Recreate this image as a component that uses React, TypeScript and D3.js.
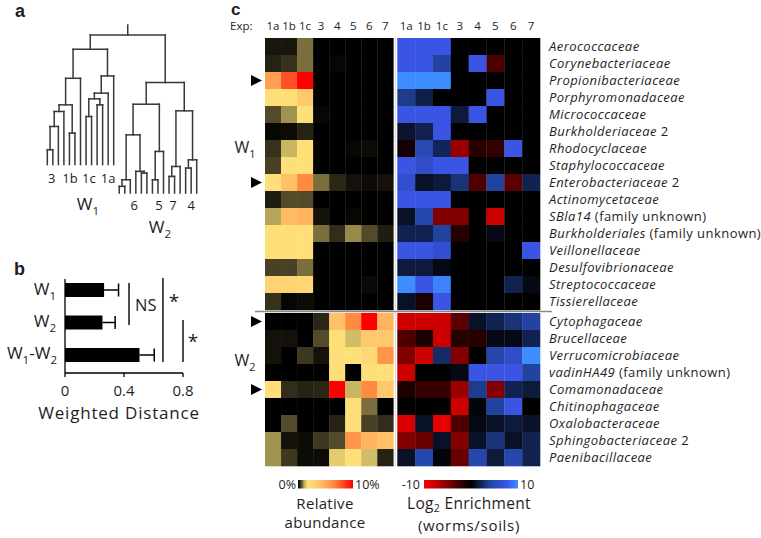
import React from "react";
import * as d3 from "d3";

// ---------- Data ----------
const expColumns = ["1a", "1b", "1c", "3", "4", "5", "6", "7"];

const families = [
  "Aerococcaceae", "Corynebacteriaceae", "Propionibacteriaceae", "Porphyromonadaceae",
  "Micrococcaceae", "Burkholderiaceae", "Rhodocyclaceae", "Staphylococcaceae",
  "Enterobacteriaceae", "Actinomycetaceae", "SBla14", "Burkholderiales",
  "Veillonellaceae", "Desulfovibrionaceae", "Streptococcaceae", "Tissierellaceae",
  "Cytophagaceae", "Brucellaceae", "Verrucomicrobiaceae", "vadinHA49",
  "Comamonadaceae", "Chitinophagaceae", "Oxalobacteraceae", "Sphingobacteriaceae",
  "Paenibacillaceae",
];
const familySuffix = [
  "", "", "", "", "", " 2", "", "", " 2", "", " (family unknown)", " (family unknown)",
  "", "", "", "", "", "", "", " (family unknown)", "", "", "", " 2", "",
];
const w1Count = 16;
const markedRows = [2, 8, 16, 20];

// relative abundance (%), columns follow expColumns
const abundance = [
  [0.2, 0.2, 0.8, 0, 0, 0, 0, 0],
  [0.3, 0.45, 0.8, 0, 0.05, 0, 0, 0],
  [5.5, 8, 10, 0, 0, 0, 0, 0],
  [2, 2, 3.5, 0, 0, 0, 0, 0],
  [0.6, 1.0, 2, 0.05, 0, 0, 0, 0],
  [0.05, 0.1, 0.3, 0, 0, 0, 0, 0],
  [0.45, 1.2, 2, 0, 0, 0.05, 0.1, 0],
  [0.55, 2, 2, 0, 0, 0, 0, 0],
  [2, 4, 6.5, 0.8, 0.35, 0.15, 0.1, 0.15],
  [0.25, 0.6, 0.6, 0, 0, 0, 0, 0],
  [1.1, 4.2, 4.5, 0.15, 0, 0.05, 0, 0],
  [2, 2, 2, 0.8, 0.4, 0.95, 0.6, 0.25],
  [2, 2, 2, 0, 0, 0, 0, 0],
  [0.55, 0.55, 0.8, 0, 0, 0, 0, 0],
  [2.8, 2.8, 2.6, 0, 0, 0, 0.08, 0],
  [0.45, 0.05, 0.1, 0, 0, 0, 0, 0],
  [0, 0, 0, 0.35, 4, 6.5, 10, 4.5],
  [0.15, 0.15, 0, 0.6, 2, 1.3, 3.5, 3.5],
  [0.15, 0, 0.5, 0.15, 2, 2, 2.5, 6],
  [0, 0, 0, 0, 2, 0, 2, 2],
  [2, 0.4, 0.3, 0.35, 10, 1.2, 6.5, 3.5],
  [0, 0, 0, 0, 0, 2, 0.8, 0],
  [0, 0.6, 0, 0, 0.3, 2, 0.55, 0.4],
  [1.0, 0.15, 0.1, 0.5, 0.6, 6, 4.5, 4],
  [1.0, 0.5, 0.1, 0.1, 1.5, 2, 1.3, 0.3],
];

// log2 enrichment (worms/soils)
const enrichment = [
  [7.5, 7.5, 7.5, 0, 0, 0, 0, 0],
  [7.5, 7.5, 4, 0, 7.5, -3, 0, 0],
  [10, 10, 10, 0, 0, 0, 0, 0],
  [3.5, 1.8, 0, 0, 0, 7.5, 0, 0],
  [7.5, 7.5, 7.5, 1.5, 7.5, 0, 0, 0],
  [1.2, 2, 7.5, 0, 0, 0, 0, 0],
  [-0.8, 5, 2.2, -6, -1.5, -2, 7.5, 0],
  [7.5, 6, 7.5, 7.5, 0, 0, 0, 0],
  [6.5, 1, 1.5, 3, -3, 4, -3.5, 2],
  [7.5, 7.5, 7.5, 0, 0, 0, 0, 0],
  [1, 4.5, -5, -5, 0, -8, 0, 0],
  [2, 2, 4, -1.5, 0, 0.5, 0, 0],
  [7.5, 7.5, 6.5, 0, 0, 0, 0, 7.5],
  [1.5, 1.5, 0.5, 0, 0, 0, 0, 0],
  [10, 7.5, 9.5, 0, 0, 0, 2, 0.5],
  [1, -1, 7.5, 0, 0, 0, 0, 0],
  [-8, -8, -8, -3.5, 1, 2, 3, 4],
  [-3, -1, -8, -1.5, -1.5, 0.5, 0.5, 2],
  [-5, -8, 2.5, -5, 0, 4.5, 6, 10],
  [-8, 0, 0, 0.5, 7.5, 7.5, 7.5, 4],
  [-1, -2, -2, -6, 3.5, -5, 2, 1.5],
  [0, 0, 0, -8, 0.3, 4, 7.5, 0],
  [-8.5, 1, -9, -3, 0.5, 1, 1.5, 1],
  [-5, -4, 1, -5, 1, 3, 1, 2],
  [1, 4.5, 0.3, -4, 4.5, 1.5, 4.5, 2],
];

const abundanceStops = [0, 0.5, 0.8, 1.2, 1.8, 4, 6.5, 10];
const abundanceColors = ["#000000", "#3e3820", "#7a6e3c", "#c8b662", "#ffe27a", "#ffc068", "#ff8a40", "#ff0000"];
const enrichStops = [-10, -5, 0, 4, 7.5, 10];
const enrichColors = ["#ff0000", "#820000", "#000000", "#2244a0", "#3a54e4", "#3d8dff"];

// panel b
const distCategories = ["W1", "W2", "W1-W2"];
const distMeans = [0.265, 0.254, 0.505];
const distErrors = [0.098, 0.086, 0.1];
const distTicks = [0, 0.4, 0.8];

// panel a dendrogram (merge heights)
type Node = { h: number; c?: Node[] };
const N = (h: number, ...c: Node[]): Node => ({ h, c });
const L1 = (): Node => ({ h: 0.18 });
const L2 = (): Node => ({ h: 0 });
const dendroRoot: Node = N(
  1.0,
  N(0.91,
    N(0.726,
      N(0.558,
        N(0.516, N(0.421, N(0.274, L1(), L1()), L1()), L1()),
        N(0.379, L1(), L1())),
      L1()),
    N(0.741,
      N(0.632, N(0.596, N(0.484, L1(), L1()), N(0.558, L1(), L1())), L1()),
      L1())),
  N(0.70,
    N(0.562,
      N(0.368,
        N(0.084, N(0.042, L2(), L2()), L2()),
        N(0.137, L2(), N(0.126, L2(), L2()))),
      N(0.263, N(0.084, L2(), L2()), L2())),
    N(0.52,
      N(0.168, N(0.105, L2(), L2()), L2()),
      N(0.21, N(0.158, L2(), L2()), L2())))
);
const rootStemTop = 1.063;
const w1LeafLabels = ["3", "1b", "1c", "1a"];
const w1LeafLabelPos = [0.8, 4.1, 7.5, 11];
const w2LeafLabels = ["6", "5", "7", "4"];
const w2LeafLabelPos = [15.7, 20.2, 22.7, 26];

// ---------- Helpers ----------
const FONT = "'Open Sans', sans-serif";
const BOLD = "'Liberation Sans', Arial, sans-serif";
const TXT = "#1e1e1e";

// parts: [text, isSubscript]
function SubText({ x, y, parts, anchor = "start", size = 15, ls = 0, shift = 0.3 }: any) {
  let lvl = 0;
  const off = size * shift;
  return (
    <text x={x} y={y} textAnchor={anchor} fontFamily={FONT} fontSize={size} fill={TXT} letterSpacing={ls}>
      {parts.map(([t, sub]: [string, boolean], i: number) => {
        const target = sub ? off : 0;
        const dy = target - lvl;
        lvl = target;
        return (
          <tspan key={i} dy={dy} fontSize={sub ? size * 0.68 : size}>{t}</tspan>
        );
      })}
    </text>
  );
}

export default function App() {
  // ---- dendrogram layout ----
  const leafX = d3.scaleLinear().domain([0, 27]).range([47.3, 196.7]);
  const hY = d3.scaleLinear().domain([0, 1]).range([193, 35]);
  const segs: [number, number, number, number][] = [];
  let leafIdx = 0;
  const layout = (n: Node): number => {
    if (!n.c) return leafX(leafIdx++);
    const xs = n.c.map(layout);
    const y = hY(n.h);
    segs.push([xs[0], y, xs[xs.length - 1], y]);
    n.c.forEach((ch, i) => segs.push([xs[i], y, xs[i], hY(ch.h)]));
    return (xs[0] + xs[xs.length - 1]) / 2;
  };
  const rootX = layout(dendroRoot);
  segs.push([rootX, hY(dendroRoot.h), rootX, hY(rootStemTop)]);

  // ---- bar chart ----
  const bx = d3.scaleLinear().domain([0, 0.8]).range([65, 183]);
  const by = d3.scaleBand().domain(distCategories).range([273.75, 371.25]).paddingInner(0.57).paddingOuter(0.285);
  const bw = by.bandwidth();
  const axisY = 373;

  // ---- heatmaps ----
  const colL = d3.scaleBand().domain(expColumns).range([265, 393.3]);
  const colR = d3.scaleBand().domain(expColumns).range([397.3, 540]);
  const rowBand = d3.scaleBand<number>().domain(d3.range(families.length)).range([38, 38 + families.length * 17]);
  const rowY = (i: number) => (rowBand(i) as number) + (i >= w1Count ? 3 : 0);
  const rh = rowBand.bandwidth();
  const cAb = d3.scaleLinear<string>().domain(abundanceStops).range(abundanceColors).clamp(true);
  const cEn = d3.scaleLinear<string>().domain(enrichStops).range(enrichColors).clamp(true);
  const gradAb = d3.range(0, 41).map((i) => ({ o: i / 40, c: cAb((i / 40) * 10) }));
  const gradEn = d3.range(0, 41).map((i) => ({ o: i / 40, c: cEn(-10 + (i / 40) * 20) }));

  return (
    <svg width={761} height={538} style={{ position: "absolute", left: 0, top: 0, background: "#fff" }}>
      <defs>
        <linearGradient id="gAb" x1="0" x2="1" y1="0" y2="0">
          {gradAb.map((s, i) => <stop key={i} offset={s.o} stopColor={s.c} />)}
        </linearGradient>
        <linearGradient id="gEn" x1="0" x2="1" y1="0" y2="0">
          {gradEn.map((s, i) => <stop key={i} offset={s.o} stopColor={s.c} />)}
        </linearGradient>
      </defs>

      {/* panel letters */}
      <text x={15} y={17} fontFamily={BOLD} fontWeight="bold" fontSize={18} fill={TXT}>a</text>
      <text x={14} y={275} fontFamily={BOLD} fontWeight="bold" fontSize={18} fill={TXT}>b</text>
      <text x={231} y={14.5} fontFamily={BOLD} fontWeight="bold" fontSize={17} fill={TXT}>c</text>

      {/* ---- panel a ---- */}
      <g stroke="#383838" strokeWidth={1.5} fill="none" strokeLinecap="square">
        {segs.map((s, i) => <line key={i} x1={s[0]} y1={s[1]} x2={s[2]} y2={s[3]} />)}
      </g>
      {w1LeafLabels.map((t, i) => (
        <text key={t} x={leafX(w1LeafLabelPos[i])} y={183} textAnchor="middle" fontFamily={FONT} fontSize={13} fill={TXT}>{t}</text>
      ))}
      {w2LeafLabels.map((t, i) => (
        <text key={t} x={leafX(w2LeafLabelPos[i])} y={210} textAnchor="middle" fontFamily={FONT} fontSize={13} fill={TXT}>{t}</text>
      ))}
      <SubText x={88} y={210} parts={[["W", false], ["1", true]]} anchor="middle" size={17} />
      <SubText x={160} y={233} parts={[["W", false], ["2", true]]} anchor="middle" size={17} />

      {/* ---- panel b ---- */}
      {distCategories.map((c, i) => {
        const y0 = by(c) as number;
        const yc = y0 + bw / 2;
        const xe = bx(distMeans[i] + distErrors[i]);
        return (
          <g key={c}>
            <rect x={bx(0)} y={y0} width={bx(distMeans[i]) - bx(0)} height={bw} fill="#000" />
            <line x1={bx(distMeans[i])} x2={xe} y1={yc} y2={yc} stroke="#000" strokeWidth={1.5} />
            <line x1={xe} x2={xe} y1={yc - 6.5} y2={yc + 6.5} stroke="#000" strokeWidth={1.5} />
          </g>
        );
      })}
      <SubText x={56} y={295} parts={[["W", false], ["1", true]]} anchor="end" size={17} />
      <SubText x={56} y={327} parts={[["W", false], ["2", true]]} anchor="end" size={17} />
      <SubText x={57} y={359} parts={[["W", false], ["1", true], ["-W", false], ["2", true]]} anchor="end" size={17} />
      <line x1={bx(0)} x2={bx(0)} y1={279} y2={axisY} stroke="#000" strokeWidth={1.3} />
      <line x1={bx(0)} x2={bx(0.8)} y1={axisY} y2={axisY} stroke="#000" strokeWidth={1.3} />
      {distTicks.map((t) => (
        <g key={t}>
          <line x1={bx(t)} x2={bx(t)} y1={axisY} y2={axisY + 4} stroke="#000" strokeWidth={1.3} />
          <text x={bx(t)} y={396} textAnchor="middle" fontFamily={FONT} fontSize={15} fill={TXT}>{String(t)}</text>
        </g>
      ))}
      <text x={119} y={419} textAnchor="middle" fontFamily={FONT} fontSize={17} letterSpacing={0.8} fill={TXT}>Weighted Distance</text>
      <line x1={bx(0.434)} x2={bx(0.434)} y1={283} y2={325} stroke="#000" strokeWidth={1.4} />
      <text x={135} y={311} fontFamily={FONT} fontSize={16.5} fill={TXT}>NS</text>
      <line x1={bx(0.664)} x2={bx(0.664)} y1={278} y2={362} stroke="#000" strokeWidth={1.4} />
      <text x={174} y={308} textAnchor="middle" fontFamily={FONT} fontSize={19} fill={TXT}>*</text>
      <line x1={bx(0.8)} x2={bx(0.8)} y1={320} y2={362} stroke="#000" strokeWidth={1.4} />
      <text x={193} y={348} textAnchor="middle" fontFamily={FONT} fontSize={19} fill={TXT}>*</text>

      {/* ---- panel c ---- */}
      <text x={230} y={30} fontFamily={FONT} fontSize={11.5} fill={TXT}>Exp:</text>
      {expColumns.map((c) => (
        <text key={"l" + c} x={(colL(c) as number) + colL.bandwidth() / 2} y={30} textAnchor="middle" fontFamily={FONT} fontSize={11.5} fill={TXT}>{c}</text>
      ))}
      {expColumns.map((c) => (
        <text key={"r" + c} x={(colR(c) as number) + colR.bandwidth() / 2} y={30} textAnchor="middle" fontFamily={FONT} fontSize={11.5} fill={TXT}>{c}</text>
      ))}
      {abundance.map((row, i) =>
        row.map((v, j) => (
          <rect key={`a${i}-${j}`} x={colL(expColumns[j])} y={rowY(i)} width={colL.bandwidth() + 0.3} height={rh + 0.3} fill={cAb(v)} />
        ))
      )}
      {enrichment.map((row, i) =>
        row.map((v, j) => (
          <rect key={`e${i}-${j}`} x={colR(expColumns[j])} y={rowY(i)} width={colR.bandwidth() + 0.3} height={rh + 0.3} fill={cEn(v)} />
        ))
      )}
      <line x1={395.3} x2={395.3} y1={38} y2={rowY(families.length - 1) + rh} stroke="#d8d8d8" strokeWidth={1} />
      <line x1={255} x2={552} y1={rowY(w1Count) - 1.5} y2={rowY(w1Count) - 1.5} stroke="#8a8a8a" strokeWidth={1.5} />
      {markedRows.map((r) => {
        const yc = rowY(r) + rh / 2;
        return <path key={r} d={`M251,${yc - 5.5}L262,${yc}L251,${yc + 5.5}Z`} fill="#000" />;
      })}
      <SubText x={245} y={153} parts={[["W", false], ["1", true]]} anchor="middle" size={16} />
      <SubText x={245} y={366} parts={[["W", false], ["2", true]]} anchor="middle" size={16} />
      {families.map((f, i) => (
        <text key={f} x={549} y={rowY(i) + rh / 2 + 4.6} fontFamily={FONT} fontSize={13} letterSpacing={0.45} fill={TXT}>
          <tspan fontStyle="italic">{f}</tspan>
          {familySuffix[i] ? <tspan>{familySuffix[i]}</tspan> : null}
        </text>
      ))}

      {/* color bars */}
      <rect x={298} y={480} width={55} height={8.5} fill="url(#gAb)" />
      <text x={296} y={488.5} textAnchor="end" fontFamily={FONT} fontSize={12.5} fill={TXT}>0%</text>
      <text x={355} y={488.5} fontFamily={FONT} fontSize={12.5} fill={TXT}>10%</text>
      <text x={325} y={509} textAnchor="middle" fontFamily={FONT} fontSize={15} letterSpacing={0.3} fill={TXT}>Relative</text>
      <text x={325} y={528} textAnchor="middle" fontFamily={FONT} fontSize={15} letterSpacing={0.3} fill={TXT}>abundance</text>

      <rect x={424} y={480} width={94} height={8.5} fill="url(#gEn)" />
      <text x={420} y={488.5} textAnchor="end" fontFamily={FONT} fontSize={12.5} fill={TXT}>-10</text>
      <text x={520} y={488.5} fontFamily={FONT} fontSize={12.5} fill={TXT}>10</text>
      <SubText x={469} y={509} parts={[["Log", false], ["2", true], [" Enrichment", false]]} anchor="middle" size={15.5} ls={0.3} shift={0.22} />
      <text x={469} y={531} textAnchor="middle" fontFamily={FONT} fontSize={15} letterSpacing={0.7} fill={TXT}>(worms/soils)</text>
    </svg>
  );
}
